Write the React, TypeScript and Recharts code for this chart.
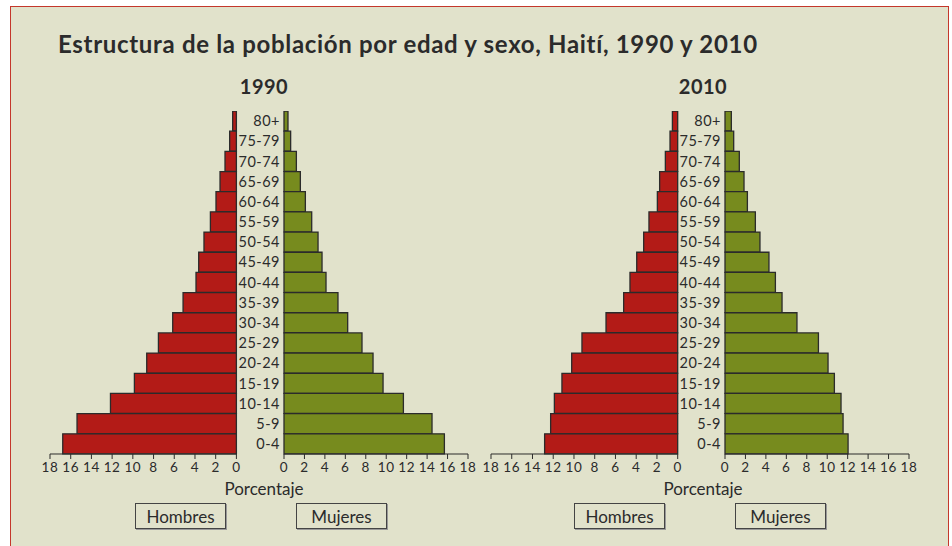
import { BarChart, Bar, XAxis, YAxis } from "recharts";

const AGES = ["80+", "75-79", "70-74", "65-69", "60-64", "55-59", "50-54", "45-49", "40-44",
  "35-39", "30-34", "25-29", "20-24", "15-19", "10-14", "5-9", "0-4"];
const HOMBRES_1990 = [0.36, 0.65, 1.1, 1.58, 1.97, 2.51, 3.13, 3.64, 3.9, 5.15, 6.15, 7.53, 8.66, 9.85, 12.16, 15.39, 16.77];
const MUJERES_1990 = [0.39, 0.65, 1.21, 1.6, 2.09, 2.71, 3.33, 3.72, 4.11, 5.28, 6.23, 7.63, 8.71, 9.69, 11.68, 14.48, 15.69];
const HOMBRES_2010 = [0.51, 0.74, 1.19, 1.74, 1.96, 2.77, 3.28, 3.95, 4.6, 5.21, 6.91, 9.23, 10.22, 11.16, 11.89, 12.25, 12.83];
const MUJERES_2010 = [0.62, 0.85, 1.4, 1.86, 2.19, 2.97, 3.42, 4.3, 4.93, 5.58, 7.04, 9.14, 10.08, 10.7, 11.35, 11.55, 12.04];
const TICKS = [0, 2, 4, 6, 8, 10, 12, 14, 16, 18];

const FONT = "Lato, 'Open Sans', sans-serif";
const INK = "#2b2b2b";
const RED = "#b31b17";
const GREEN = "#778b1e";

const PLOT_TOP = 111;
const PLOT_H = 343;
const AXIS_H = 30;

const rows = (vals: number[]) => AGES.map((age, i) => ({ age, v: vals[i] }));

const xTick = { fill: INK, fontSize: 13.5, fontFamily: FONT, letterSpacing: 0.6 };
const ageTick = { fill: INK, fontSize: 14.5, fontFamily: FONT, letterSpacing: 0.5 };

function Men({ vals, x0, x18 }: { vals: number[]; x0: number; x18: number }) {
  const w = x0 - x18;
  return (
    <div style={{ position: "absolute", left: x18 - 12, top: PLOT_TOP }}>
      <BarChart width={w + 24} height={PLOT_H + AXIS_H} layout="vertical" data={rows(vals)}
        margin={{ top: 0, right: 12, bottom: 0, left: 12 }} barCategoryGap={0}>
        <XAxis type="number" domain={[0, 18]} ticks={TICKS} reversed height={AXIS_H}
          tickSize={5} tickMargin={3} stroke={INK} interval={0} tick={xTick} />
        <YAxis type="category" dataKey="age" hide />
        <Bar dataKey="v" fill={RED} stroke={INK} strokeWidth={1.3} isAnimationActive={false} />
      </BarChart>
    </div>
  );
}

function Women({ vals, x0, x18 }: { vals: number[]; x0: number; x18: number }) {
  const w = x18 - x0;
  const yw = 50;
  return (
    <div style={{ position: "absolute", left: x0 - yw, top: PLOT_TOP }}>
      <BarChart width={yw + w + 12} height={PLOT_H + AXIS_H} layout="vertical" data={rows(vals)}
        margin={{ top: 0, right: 12, bottom: 0, left: 0 }} barCategoryGap={0}>
        <XAxis type="number" domain={[0, 18]} ticks={TICKS} height={AXIS_H}
          tickSize={5} tickMargin={3} stroke={INK} interval={0} tick={xTick} />
        <YAxis type="category" dataKey="age" width={yw} axisLine={false} tickLine={false}
          tickSize={2} tickMargin={2} interval={0} tick={ageTick} />
        <Bar dataKey="v" fill={GREEN} stroke={INK} strokeWidth={1.3} isAnimationActive={false} />
      </BarChart>
    </div>
  );
}

function Box({ label, left, width }: { label: string; left: number; width: number }) {
  return (
    <div style={{
      position: "absolute", left, top: 503, width, height: 26, boxSizing: "border-box",
      border: "1.5px solid #444", boxShadow: "1px 1px 0 #999", display: "flex",
      alignItems: "center", justifyContent: "center", fontSize: 17, color: INK,
    }}>{label}</div>
  );
}

function Pyramid({ year, men, women, mx0, mx18, wx0, wx18, center, boxes }: {
  year: string; men: number[]; women: number[]; mx0: number; mx18: number; wx0: number; wx18: number;
  center: number; boxes: [number, number, number];
}) {
  return (
    <>
      <div style={{ position: "absolute", left: center - 60, width: 120, top: 74, textAlign: "center",
        fontWeight: 700, fontSize: 20, color: INK, letterSpacing: 0.5 }}>{year}</div>
      <Men vals={men} x0={mx0} x18={mx18} />
      <Women vals={women} x0={wx0} x18={wx18} />
      <div style={{ position: "absolute", left: center - 70, width: 140, top: 478, textAlign: "center",
        fontSize: 17, color: INK }}>Porcentaje</div>
      <Box label="Hombres" left={boxes[0]} width={boxes[2]} />
      <Box label="Mujeres" left={boxes[1]} width={boxes[2]} />
    </>
  );
}

export default function App() {
  return (
    <div style={{ position: "fixed", left: 0, top: 0, width: 952, height: 546, background: "#fff",
      overflow: "hidden", fontFamily: FONT }}>
      <div style={{ position: "absolute", left: 10, top: 6, width: 939, height: 560, boxSizing: "border-box",
        background: "#e1e2cb", border: "1.5px solid #c4372b" }} />
      <div style={{ position: "absolute", left: 58, top: 29, fontSize: 24, fontWeight: 700, color: INK,
        whiteSpace: "nowrap", letterSpacing: 0.68 }}>
        Estructura de la población por edad y sexo, Haití, 1990 y 2010
      </div>
      <Pyramid year="1990" men={HOMBRES_1990} women={MUJERES_1990}
        mx0={236.7} mx18={50.3} wx0={284.3} wx18={468.3} center={264} boxes={[135, 296, 91]} />
      <Pyramid year="2010" men={HOMBRES_2010} women={MUJERES_2010}
        mx0={678} mx18={491.3} wx0={725.3} wx18={909.3} center={703} boxes={[574, 735, 91]} />
    </div>
  );
}
